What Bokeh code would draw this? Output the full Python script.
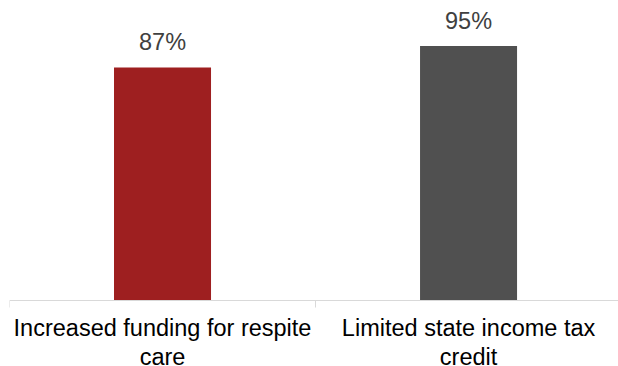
from bokeh.plotting import figure
from bokeh.models import Range1d, LinearAxis, FixedTicker, ColumnDataSource
from bokeh.core.properties import value
from bokeh.embed import file_html
from bokeh.resources import INLINE

categories = ["Increased funding for respite\ncare", "Limited state income tax\ncredit"]
values = [87, 95]
colors = ["#9E1F20", "#505050"]
labels = [f"{v}%" for v in values]

xs = [i + 0.5 for i in range(len(categories))]
src = ColumnDataSource(dict(x=xs, top=values, color=colors, label=labels))

FONT = "Liberation Sans"

# frame covers the whole canvas; value 0 sits 300px from the top
p = figure(width=618, height=366, x_range=Range1d(0, 1.99), y_range=Range1d(-24.64, 112),
           output_backend="svg", toolbar_location=None, x_axis_location=None,
           y_axis_location=None, min_border_left=9, min_border_right=0,
           min_border_top=0, min_border_bottom=0)
p.outline_line_color = None
p.grid.visible = False
p.background_fill_color = "white"
p.border_fill_color = "white"

p.vbar(x="x", top="top", width=0.317, bottom=0, color="color", line_color=None, source=src)
p.text(x="x", y="top", text="label", source=src, text_align="center",
       text_baseline="alphabetic", y_offset=-25, text_color="#404040",
       text_font=value(FONT), text_font_size="23.5px")

ax = LinearAxis(ticker=FixedTicker(ticks=xs, minor_ticks=list(range(len(categories) + 1))),
                fixed_location=0)
ax.major_label_overrides = {x: c for x, c in zip(xs, categories)}
ax.major_tick_line_color = None
ax.major_tick_out = 0
ax.major_tick_in = 0
ax.minor_tick_out = 7
ax.minor_tick_in = 0
ax.minor_tick_line_color = "#D9D9D9"
ax.axis_line_color = "#D9D9D9"
ax.axis_line_width = 1
ax.major_label_text_font = FONT
ax.major_label_text_font_size = "23.5px"
ax.major_label_text_line_height = 1.13
ax.major_label_text_color = "#000000"
ax.major_label_standoff = 7
p.add_layout(ax, "below")

open("out.html", "w").write(file_html(p, INLINE))
